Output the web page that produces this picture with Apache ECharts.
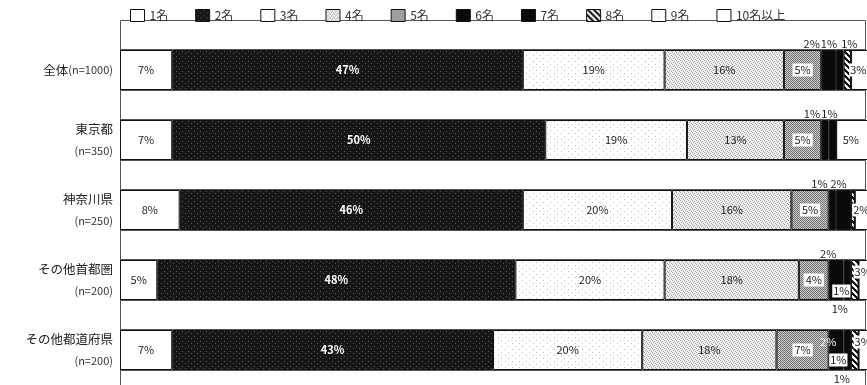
<!DOCTYPE html>
<html lang="ja">
<head>
<meta charset="utf-8">
<title>順位別構成比</title>
<script src="https://cdn.jsdelivr.net/npm/echarts/dist/echarts.min.js"></script>
<style>
  html, body { margin: 0; padding: 0; background: #fff; }
  #chart { width: 867px; height: 385px; }
</style>
</head>
<body>
<div id="chart"></div>
<script>
// Regions (rows) and their sample sizes
const regionNames = ['全体', '東京都', '神奈川県', 'その他首都圏', 'その他都道府県'];
const sampleSizes = [1000, 350, 250, 200, 200];

// Rank categories (stack order, left to right)
const rankNames = ['1名', '2名', '3名', '4名', '5名', '6名', '7名', '8名', '9名', '10名以上'];

// Share (%) of each rank, one value per region
const rank1 = [7, 7, 8, 5, 7];
const rank2 = [47, 50, 46, 48, 43];
const rank3 = [19, 19, 20, 20, 20];
const rank4 = [16, 13, 16, 18, 18];
const rank5 = [5, 5, 5, 4, 7];
const rank6 = [2, 1, 1, 2, 2];
const rank7 = [1, 1, 2, 1, 1];
const rank8 = [1, 0, 0.5, 1, 1];
const rank9 = [0, 0, 0, 0, 0];
const rank10 = [3, 5, 2, 3, 3];
const rankValues = [rank1, rank2, rank3, rank4, rank5, rank6, rank7, rank8, rank9, rank10];

// Blank separator bands between the rows (full width)
const separatorSlots = ['s0', 's1', 's2', 's3', 's4', 's5'];
const separatorValues = [100, 100, 100, 100, 100, 100];

// Placement of the labels for the thin segments: key = "row-rank"
const callouts = {
  '0-5': { pos: 'top', dx: -17 },
  '0-6': { pos: 'top', dx: -11 },
  '0-7': { pos: 'top', dx: 2 },
  '0-9': { pos: 'inside', dx: -4, bg: '#fff' },
  '1-5': { pos: 'top', dx: -13 },
  '1-6': { pos: 'top', dx: -3 },
  '1-9': { pos: 'inside', dx: -4, bg: '#fff' },
  '2-5': { pos: 'top', dx: -13 },
  '2-6': { pos: 'top', dx: -5 },
  '2-9': { pos: 'inside', dx: -1, bg: '#fff' },
  '3-5': { pos: 'top', dx: -8 },
  '3-6': { pos: 'inside', dx: -6, dy: 11, bg: '#fff' },
  '3-7': { pos: 'bottom', dx: -15 },
  '3-9': { pos: 'inside', dx: -7, dy: -8, bg: '#fff' },
  '4-5': { pos: 'inside', dx: -8, dy: -8, color: '#fff' },
  '4-6': { pos: 'inside', dx: -9, dy: 10, bg: '#fff' },
  '4-7': { pos: 'bottom', dx: -13 },
  '4-9': { pos: 'inside', dx: -7, dy: -8, bg: '#fff' }
};

// Small repeating textures for the fills
function tile(w, h, bg, fg, pts) {
  const c = document.createElement('canvas');
  c.width = w; c.height = h;
  const g = c.getContext('2d');
  g.fillStyle = bg; g.fillRect(0, 0, w, h);
  g.fillStyle = fg;
  pts.forEach(([x, y]) => g.fillRect(x, y, 1, 1));
  return { image: c, repeat: 'repeat' };
}
function gridPts(w, h, test) {
  const out = [];
  for (let y = 0; y < h; y++) for (let x = 0; x < w; x++) if (test(x, y)) out.push([x, y]);
  return out;
}
const fills = [
  '#ffffff',
  tile(6, 5, '#161616', '#5c5c5c', [[2, 1], [5, 3]]),
  tile(7, 6, '#ffffff', '#c2c2c2', [[1, 1], [4, 4]]),
  tile(4, 4, '#f0f0f0', '#a0a0a0', [[0, 0], [2, 1], [1, 2], [3, 3]]),
  tile(2, 2, '#cfcfcf', '#6e6e6e', [[0, 0], [1, 1]]),
  '#0a0a0a',
  '#0a0a0a',
  tile(6, 6, '#ffffff', '#111111', gridPts(6, 6, (x, y) => ((x - y + 12) % 6) < 3)),
  tile(5, 5, '#ffffff', '#b8b8b8', [[2, 2]]),
  '#ffffff'
];

const labelFont = '"Noto Sans CJK JP", "Noto Sans", sans-serif';

function buildData(r) {
  return regionNames.map((_, i) => {
    const v = rankValues[r][i];
    const c = callouts[i + '-' + r];
    let label;
    if (c) {
      label = {
        show: true,
        position: c.pos,
        offset: [c.dx || 0, c.dy || 0],
        distance: c.pos === 'top' ? 1 : 3,
        color: c.color || '#222',
        fontWeight: 'normal',
        backgroundColor: c.bg || 'transparent',
        padding: c.bg ? [1, 1] : 0
      };
    } else if (r <= 4 && v > 0) {
      label = { show: true, position: 'inside' };
    } else {
      label = { show: false };
    }
    return { value: v, label };
  });
}

const barSeries = rankNames.map((name, r) => ({
  name,
  type: 'bar',
  stack: 'total',
  barWidth: 40,
  clip: false,
  yAxisIndex: 0,
  z: 3,
  itemStyle: { color: fills[r], borderColor: '#111', borderWidth: 1 },
  label: Object.assign({
    formatter: p => p.value + '%',
    fontSize: 11,
    fontFamily: labelFont,
    color: r === 1 ? '#fff' : '#222',
    fontWeight: r === 1 ? 'bold' : 'normal'
  }, r === 4 ? { backgroundColor: '#fff', padding: [1, 2] } : {}),
  emphasis: { disabled: true },
  data: buildData(r)
}));

const separatorSeries = {
  name: 'separator',
  type: 'bar',
  yAxisIndex: 1,
  barWidth: 30,
  z: 1,
  silent: true,
  itemStyle: { color: '#ffffff', borderColor: '#555', borderWidth: 1 },
  emphasis: { disabled: true },
  data: separatorValues
};

const chart = echarts.init(document.getElementById('chart'), null, { renderer: 'canvas' });
chart.setOption({
  animation: false,
  backgroundColor: '#fff',
  legend: {
    data: rankNames.map(n => ({ name: n, icon: 'rect' })),
    left: 125,
    top: 4,
    itemWidth: 14,
    itemHeight: 12,
    itemGap: 27,
    itemStyle: { borderColor: '#111', borderWidth: 1 },
    textStyle: { fontSize: 12, color: '#333', fontFamily: labelFont }
  },
  grid: { left: 120, right: 1, top: 35, bottom: 0 },
  xAxis: { type: 'value', min: 0, max: 100, show: false },
  yAxis: [
    {
      type: 'category',
      inverse: true,
      data: regionNames,
      axisLine: { show: true, lineStyle: { color: '#111', width: 1 } },
      axisTick: { show: false },
      axisLabel: {
        margin: 7,
        align: 'right',
        formatter: (name, i) => i === 0
          ? '{a|' + name + '}{b|(n=' + sampleSizes[i] + ')}'
          : '{a|' + name + '}\n{b|(n=' + sampleSizes[i] + ')}',
        rich: {
          a: { fontSize: 12.5, color: '#222', fontFamily: labelFont, lineHeight: 21, align: 'right' },
          b: { fontSize: 11, color: '#333', fontFamily: labelFont, lineHeight: 21, align: 'right' }
        }
      }
    },
    {
      type: 'category',
      inverse: true,
      boundaryGap: false,
      data: separatorSlots,
      show: false
    }
  ],
  series: [separatorSeries].concat(barSeries)
});
</script>
</body>
</html>
